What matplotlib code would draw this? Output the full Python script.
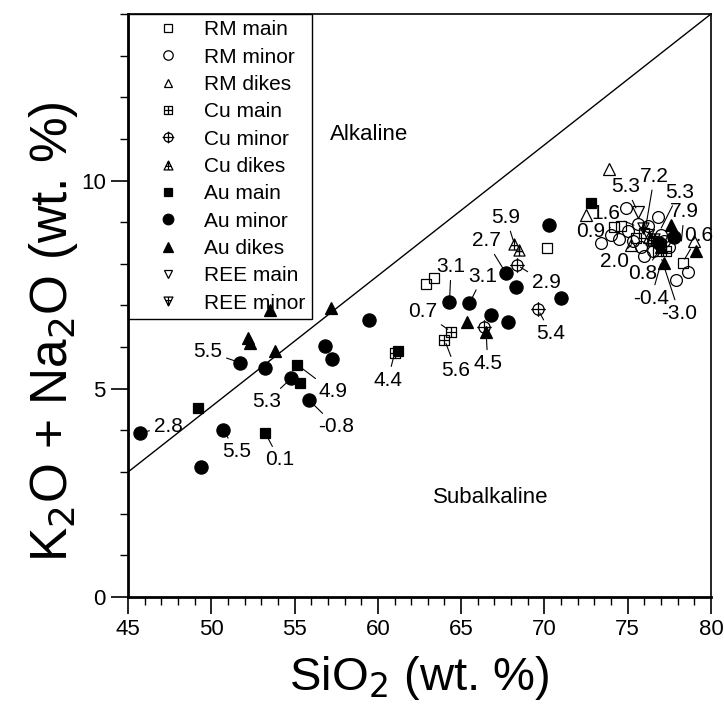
import matplotlib
matplotlib.use("Agg")
import matplotlib.pyplot as plt
import matplotlib.path as mpath
from matplotlib.ticker import MultipleLocator
from matplotlib import font_manager
import numpy as np

plt.rcParams['font.family'] = ['Liberation Sans', 'DejaVu Sans']

# ---------------- data (SiO2, K2O+Na2O) ----------------
rm_main_x = [62.9, 63.4, 70.15, 74.2, 74.6, 76.0, 76.5, 77.0, 78.3, 75.5, 76.8]
rm_main_y = [7.51, 7.65, 8.38, 8.89, 8.92, 8.75, 8.55, 8.45, 8.03, 8.62, 8.3]
rm_minor_x = [73.4, 74.9, 76.8, 74.5, 75.0, 75.3, 75.8, 76.2, 76.5, 77.0, 77.2, 77.5, 78.6, 77.9, 76.0, 75.6, 74.0]
rm_minor_y = [8.49, 9.34, 9.13, 8.6, 8.8, 8.55, 8.4, 8.9, 8.3, 8.7, 8.55, 8.4, 7.8, 7.6, 8.2, 8.95, 8.7]
rm_dikes_x = [73.9, 72.5, 75.2, 79.0, 76.3]
rm_dikes_y = [10.27, 9.18, 8.46, 8.54, 8.65]
cu_main_x = [61.0, 64.4, 64.0, 77.3]
cu_main_y = [5.85, 6.37, 6.18, 8.3]
cu_minor_x = [68.35, 69.6, 66.4]
cu_minor_y = [7.97, 6.91, 6.49]
cu_dikes_x = [68.2, 68.45, 76.4]
cu_dikes_y = [8.47, 8.33, 8.6]
au_main_x = [49.2, 53.25, 55.15, 55.35, 61.2, 72.8]
au_main_y = [4.54, 3.93, 5.58, 5.13, 5.91, 9.45]
au_minor_x = [45.7, 49.4, 50.7, 51.7, 53.2, 54.8, 55.86, 56.8, 57.26, 59.46, 64.3, 65.5,
              66.8, 67.8, 67.7, 68.3, 70.25, 71.0, 77.8, 76.9]
au_minor_y = [3.94, 3.13, 4.02, 5.63, 5.5, 5.25, 4.73, 6.02, 5.71, 6.65, 7.09, 7.05,
              6.78, 6.61, 7.77, 7.45, 8.93, 7.18, 8.65, 8.5]
au_dikes_x = [53.5, 52.2, 52.35, 53.85, 57.2, 65.33, 66.5, 77.6, 77.2, 79.1, 77.0]
au_dikes_y = [6.89, 6.21, 6.09, 5.91, 6.93, 6.61, 6.37, 8.93, 8.03, 8.3, 8.4]
ree_main_x = [75.6, 76.2]
ree_main_y = [9.25, 8.7]
ree_minor_x = [76.6, 75.9]
ree_minor_y = [8.6, 8.85]

# labels: text, text position, point
lab_text = ["2.8", "5.5", "5.5", "0.1", "5.3", "4.9", "-0.8", "4.4", "0.7", "5.6",
            "3.1", "3.1", "4.5", "5.9", "2.7", "2.9", "5.4",
            "5.3", "7.2", "5.3", "7.9", "0.6", "1.6", "0.9", "2.0", "0.8", "-0.4", "-3.0"]
lab_tx = [47.4, 49.8, 51.5, 54.1, 53.3, 57.3, 57.5, 60.6, 62.7, 64.7,
          64.4, 66.3, 66.6, 67.7, 66.5, 70.1, 70.4,
          74.9, 76.6, 78.1, 78.4, 79.25, 73.7, 72.8, 74.2, 75.9, 76.4, 78.1]
lab_ty = [4.09, 5.89, 3.49, 3.29, 4.69, 4.93, 4.09, 5.21, 6.85, 5.45,
          7.93, 7.70, 5.61, 9.11, 8.55, 7.54, 6.33,
          9.85, 10.1, 9.72, 9.25, 8.68, 9.21, 8.77, 8.05, 7.77, 7.17, 6.81]
lab_px = [45.7, 51.7, 50.7, 53.25, 54.8, 55.15, 55.86, 61.0, 64.4, 64.0,
          64.3, 65.5, 66.5, 68.2, 67.7, 68.35, 69.6,
          75.6, 76.0, 76.9, 78.2, 78.3, 75.6, 74.2, 75.4, 77.0, 77.05, 76.97]
lab_py = [3.94, 5.63, 4.02, 3.93, 5.25, 5.58, 4.73, 5.85, 6.37, 6.18,
          7.09, 7.05, 6.37, 8.47, 7.77, 7.97, 6.91,
          9.25, 8.69, 8.77, 8.45, 8.03, 8.89, 8.89, 8.53, 8.37, 8.09, 8.2]

div_x = [45, 80]
div_y = [3, 14]

# ---------------- custom markers ----------------
P = mpath.Path
def square_plus():
    v = [(-1, -1), (1, -1), (1, 1), (-1, 1), (-1, -1), (-1, 0), (1, 0), (0, -1), (0, 1)]
    c = [P.MOVETO, P.LINETO, P.LINETO, P.LINETO, P.CLOSEPOLY, P.MOVETO, P.LINETO, P.MOVETO, P.LINETO]
    return P(v, c)

def circle_plus():
    circ = P.unit_circle()
    lines = P([(-1.3, 0), (1.3, 0), (0, -1.3), (0, 1.3)], [P.MOVETO, P.LINETO, P.MOVETO, P.LINETO])
    return P.make_compound_path(circ, lines)

def tri_plus(up=True):
    s = 1 if up else -1
    v = [(0, s * 1), (-1, -s * 1), (1, -s * 1), (0, s * 1), (0, s * 1), (0, -s * 1),
         (-0.6, -s * 0.2), (0.6, -s * 0.2)]
    c = [P.MOVETO, P.LINETO, P.LINETO, P.CLOSEPOLY, P.MOVETO, P.LINETO, P.MOVETO, P.LINETO]
    return P(v, c)

# ---------------- figure ----------------
fig = plt.figure(figsize=(7.24, 7.25), dpi=100)
ax = fig.add_axes([0.1768, 0.1766, 0.8052, 0.8041])

ax.plot(div_x, div_y, color='black', lw=1.0, zorder=1)

mew = 0.9
series = [
    ("RM main", rm_main_x, rm_main_y, 's', 7.0, 'none'),
    ("RM minor", rm_minor_x, rm_minor_y, 'o', 8.5, 'none'),
    ("RM dikes", rm_dikes_x, rm_dikes_y, '^', 8.0, 'none'),
    ("Cu main", cu_main_x, cu_main_y, square_plus(), 7.0, 'none'),
    ("Cu minor", cu_minor_x, cu_minor_y, circle_plus(), 10.5, 'none'),
    ("Cu dikes", cu_dikes_x, cu_dikes_y, tri_plus(True), 8.0, 'none'),
    ("Au main", au_main_x, au_main_y, 's', 7.0, 'black'),
    ("Au minor", au_minor_x, au_minor_y, 'o', 9.5, 'black'),
    ("Au dikes", au_dikes_x, au_dikes_y, '^', 8.5, 'black'),
    ("REE main", ree_main_x, ree_main_y, 'v', 8.0, 'none'),
    ("REE minor", ree_minor_x, ree_minor_y, tri_plus(False), 8.0, 'none'),
]
handles = []
for name, xs, ys, m, ms, fc in series:
    h, = ax.plot(xs, ys, linestyle='none', marker=m, markersize=ms,
                 markerfacecolor=fc, markeredgecolor='black', markeredgewidth=mew,
                 label=name, zorder=3)
    handles.append(h)

for t, tx, ty, px, py in zip(lab_text, lab_tx, lab_ty, lab_px, lab_py):
    ax.annotate(t, xy=(px, py), xytext=(tx, ty), ha='center', va='center',
                fontsize=15, zorder=4,
                arrowprops=dict(arrowstyle='-', lw=0.8, color='black', shrinkA=1, shrinkB=3))

ax.text(59.5, 11.1, "Alkaline", fontsize=16, ha='center', va='center')
ax.text(66.8, 2.4, "Subalkaline", fontsize=16, ha='center', va='center')

ax.set_xlim(45, 80)
ax.set_ylim(0, 14)
ax.xaxis.set_major_locator(MultipleLocator(5))
ax.xaxis.set_minor_locator(MultipleLocator(1))
ax.yaxis.set_major_locator(MultipleLocator(5))
ax.yaxis.set_minor_locator(MultipleLocator(1))
ax.tick_params(which='major', direction='out', length=12, width=1.2, labelsize=16, pad=4)
ax.tick_params(which='minor', direction='out', length=6, width=1.0)

narrow = None
for f in font_manager.fontManager.ttflist:
    if 'Narrow' in f.name and 'Liberation' in f.name:
        narrow = f.name
        break
if narrow:
    for lbl in ax.get_xticklabels() + ax.get_yticklabels():
        lbl.set_family(narrow)

for sp in ax.spines.values():
    sp.set_linewidth(1.2)
ax.spines['left'].set_linewidth(2)
ax.spines['bottom'].set_linewidth(2)

ax.set_xlabel("SiO$_2$ (wt. %)", fontsize=34, labelpad=10)
ax.set_ylabel("K$_2$O + Na$_2$O (wt. %)", fontsize=37)
ax.yaxis.set_label_coords(-0.083, 0.455)

leg = ax.legend(handles=handles, loc='upper left', bbox_to_anchor=(0, 1), borderaxespad=0,
                fontsize=15, frameon=True, fancybox=False, edgecolor='black', framealpha=1,
                labelspacing=0.40, handlelength=3.2, handletextpad=0.15, borderpad=0.3,
                markerscale=0.8)
leg.get_frame().set_linewidth(1.0)
leg.set_zorder(2)

fig.savefig("out.png", dpi=100)
